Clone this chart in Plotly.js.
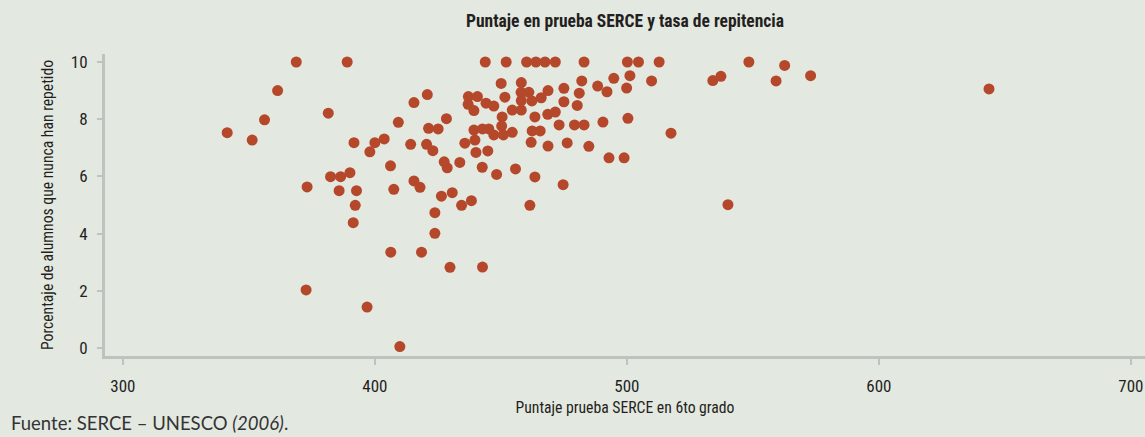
<!DOCTYPE html>
<html>
<head>
<meta charset="utf-8">
<script src="https://cdn.plot.ly/plotly-3.0.1.min.js"></script>
<style>
  html, body { margin: 0; padding: 0; background: #e3e8e1; }
  #chart { width: 1145px; height: 437px; }
</style>
</head>
<body>
<div id="chart"></div>
<script>
// Puntaje prueba SERCE (6to grado)
const puntajeSERCE = [
  368.8, 389.0, 443.8, 452.1, 460.2, 463.9, 467.5, 471.6, 483.0, 500.2, 504.6, 512.8, 548.4,
  361.4, 356.2, 341.4, 351.3, 381.5, 382.4, 386.4, 390.1, 385.8, 392.7, 373.1, 372.7,
  392.2, 391.4, 396.9, 409.9, 406.3, 418.5, 429.8, 442.7, 423.8, 423.8, 434.4, 438.3,
  426.4, 430.7, 407.5, 415.5, 417.9, 406.2, 427.5, 428.7, 433.7, 442.6, 448.3, 455.8,
  463.5, 474.7, 461.5, 540.1,
  391.7, 400.0, 403.7, 398.0, 414.2, 420.5, 423.0, 435.7, 439.7, 440.1, 444.8, 462.0,
  468.7, 476.3, 484.9, 492.9, 498.9,
  409.3, 428.4, 421.3, 425.1, 450.5, 450.3, 439.3, 442.7, 445.2, 447.2, 451.0, 454.5,
  462.4, 465.6, 463.5, 468.6, 471.6, 473.1, 479.2, 483.0, 490.5, 500.4, 517.5,
  415.5, 420.8, 437.1, 440.7, 437.0, 439.3, 444.1, 447.2, 451.6, 454.5, 458.1, 458.1,
  462.3, 466.0, 475.0, 480.3,
  450.1, 458.1, 458.0, 461.1, 468.7, 475.0, 481.1, 482.1, 488.4, 492.1, 499.9, 494.8,
  501.2, 509.8, 534.1, 537.3, 559.2, 562.6, 572.9, 643.7
];
// Porcentaje de alumnos que nunca han repetido
const porcentajeNoRepite = [
  10.0, 10.0, 10.0, 10.0, 10.0, 10.0, 10.0, 10.0, 10.0, 10.0, 10.0, 10.0, 10.0,
  9.00, 7.98, 7.53, 7.27, 8.21, 5.99, 5.99, 6.13, 5.50, 5.50, 5.63, 2.03,
  4.99, 4.38, 1.43, 0.05, 3.35, 3.35, 2.82, 2.83, 4.73, 4.01, 4.99, 5.15,
  5.31, 5.43, 5.55, 5.84, 5.62, 6.37, 6.51, 6.30, 6.49, 6.32, 6.07, 6.26,
  5.98, 5.71, 4.99, 5.01,
  7.18, 7.18, 7.31, 6.86, 7.12, 7.12, 6.90, 7.16, 7.27, 6.84, 6.89, 7.19,
  7.06, 7.17, 7.05, 6.65, 6.65,
  7.89, 8.02, 7.68, 7.66, 8.08, 7.76, 7.62, 7.66, 7.66, 7.45, 7.45, 7.54,
  7.59, 7.59, 8.08, 8.17, 8.25, 7.80, 7.80, 7.80, 7.90, 8.03, 7.51,
  8.58, 8.86, 8.79, 8.79, 8.52, 8.30, 8.56, 8.46, 8.77, 8.32, 8.32, 8.65,
  8.64, 8.75, 8.61, 8.48,
  9.25, 9.28, 8.94, 8.94, 9.00, 9.08, 8.91, 9.34, 9.16, 8.96, 9.09, 9.43,
  9.52, 9.34, 9.35, 9.50, 9.34, 9.88, 9.52, 9.06
];
const xTickVals = [300, 400, 500, 600, 700];
const yTickVals = [0, 2, 4, 6, 8, 10];

const chartTitle = "Puntaje en prueba SERCE y tasa de repitencia";
const xTitle = "Puntaje prueba SERCE en 6to grado";
const yTitle = "Porcentaje de alumnos que nunca han repetido";
const fuente = "Fuente: SERCE – UNESCO <i>(2006)</i>.";

const narrow = "'Roboto Condensed', 'Liberation Sans Narrow', Roboto, sans-serif";
const bg = "#e3e8e1";
const axisGray = "#bfc3bf";
const textCol = "#231f20";

const trace = {
  type: "scatter",
  mode: "markers",
  x: puntajeSERCE,
  y: porcentajeNoRepite,
  marker: { color: "#b5482b", size: 11, line: { width: 0 } },
  hoverinfo: "x+y"
};

const layout = {
  width: 1145,
  height: 437,
  paper_bgcolor: bg,
  plot_bgcolor: bg,
  margin: { l: 105, r: 0, t: 54, b: 81, pad: 0 },
  showlegend: false,
  title: {
    text: "<b>" + chartTitle + "</b>",
    font: { family: narrow, size: 17.5, color: textCol },
    xref: "paper", x: 0.5, xanchor: "center",
    yref: "container", y: 0.952, yanchor: "middle"
  },
  xaxis: {
    range: [292.9, 705.6],
    tickvals: xTickVals,
    ticktext: xTickVals.map(String),
    showgrid: false, zeroline: false,
    showline: true, linecolor: axisGray, linewidth: 3,
    ticks: "outside", ticklen: 6, tickwidth: 2, tickcolor: axisGray,
    ticklabelstandoff: 7,
    ticklabeloverflow: "allow",
    tickfont: { family: narrow, size: 17, color: textCol },
    title: { text: xTitle, font: { family: narrow, size: 15.7, color: textCol }, standoff: 7 }
  },
  yaxis: {
    range: [-0.28, 10.28],
    tickvals: yTickVals,
    ticktext: yTickVals.map(String),
    showgrid: false, zeroline: false,
    showline: true, linecolor: axisGray, linewidth: 3,
    ticks: "outside", ticklen: 5, tickwidth: 2, tickcolor: axisGray,
    ticklabelstandoff: 6,
    tickfont: { family: narrow, size: 17, color: textCol },
    title: { text: yTitle, font: { family: narrow, size: 15.7, color: textCol }, standoff: 14 }
  },
  annotations: [{
    text: fuente,
    xref: "paper", yref: "paper",
    x: -0.092, y: -0.222, xanchor: "left", yanchor: "middle",
    showarrow: false,
    font: { family: "Lato, 'Open Sans', sans-serif", size: 18.5, color: "#333333" }
  }]
};

Plotly.newPlot("chart", [trace], layout, { displayModeBar: false, staticPlot: true });
</script>
</body>
</html>
